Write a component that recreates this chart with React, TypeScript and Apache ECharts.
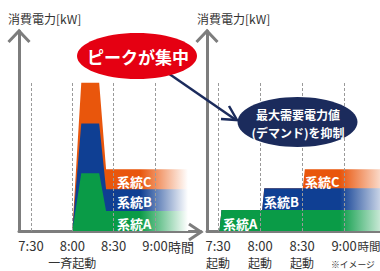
import React, { useEffect, useRef } from "react";
import * as echarts from "echarts";

// ---- data ----
const tickValues = [450, 480, 510, 540]; // minutes since 0:00
const tickLabels = ["7:30", "8:00", "8:30", "9:00"];
const leftSubLabels = ["", "一斉起動", "", ""];
const rightSubLabels = ["起動", "起動", "起動", ""];
const systemNames = ["系統A", "系統B", "系統C"];

// left panel: all systems start at once
const leftTimes = [480, 486.5, 499.5, 504.5, 564];
const leftA = [0, 58, 58, 20, 20];
const leftB = [0, 50, 50, 22, 22];
const leftC = [0, 41, 41, 20, 20];

// right panel: staggered start
const rightStart = [451, 481.5, 510.5];
const rightRise = 1.5;
const rightLevel = [21, 22, 19];
const rightEnd = 566;

const gridlineTop = 149;

const FONT = '"Noto Sans CJK JP", "Noto Sans", sans-serif';
const GRAY = "#7d7d7d";
const COLORS = ["#0a9b47", "#0f3f93", "#e9560c"];

function leftTotal(level: number) {
  const parts = [leftA, leftB, leftC].slice(0, level + 1);
  return leftTimes.map((t, i) => [t, parts.reduce((s, p) => s + p[i], 0)]);
}

function rightTotal(level: number) {
  const pts: number[][] = [];
  let cum = 0;
  for (let j = 0; j <= level; j++) {
    pts.push([rightStart[j], cum]);
    cum += rightLevel[j];
    pts.push([rightStart[j] + rightRise, cum]);
  }
  pts.push([rightEnd, cum]);
  return pts;
}

function xAxisDef(gridIndex: number, min: number, max: number, subs: string[]) {
  return {
    type: "value",
    gridIndex,
    min,
    max,
    axisLine: { show: true, onZero: false, lineStyle: { color: GRAY, width: 3 } },
    axisTick: { show: false },
    splitLine: { show: false },
    axisLabel: {
      customValues: tickValues,
      margin: 5,
      color: "#333",
      fontSize: 13,
      lineHeight: 18,
      fontFamily: FONT,
      formatter: (v: number) => {
        const i = tickValues.indexOf(v);
        if (i < 0) return "";
        return subs[i] ? `{a|${tickLabels[i]}}\n{b|${subs[i]}}` : `{a|${tickLabels[i]}}`;
      },
      rich: {
        a: { fontSize: 13, lineHeight: 18, color: "#333", fontFamily: FONT },
        b: { fontSize: 12, lineHeight: 17, color: "#333", fontFamily: FONT },
      },
    },
  };
}

function yAxisDef(gridIndex: number) {
  return {
    type: "value",
    gridIndex,
    min: 0,
    max: 201,
    axisLine: { show: true, onZero: false, lineStyle: { color: GRAY, width: 3 } },
    axisTick: { show: false },
    axisLabel: { show: false },
    splitLine: { show: false },
  };
}

function areaSeries(name: string, idx: number, data: number[][], color: string, f0: number, f1: number, withLines: boolean) {
  const s: any = {
    type: "line",
    name,
    xAxisIndex: idx,
    yAxisIndex: idx,
    data,
    showSymbol: false,
    symbol: "none",
    silent: true,
    lineStyle: { width: 0, opacity: 0 },
    areaStyle: {
      opacity: 1,
      color: new echarts.graphic.LinearGradient(
        f0, 0, f1, 0,
        [
          { offset: 0, color },
          { offset: 1, color: "#ffffff" },
        ],
        true
      ),
    },
  };
  if (withLines) {
    s.markLine = {
      silent: true,
      symbol: ["none", "none"],
      label: { show: false },
      lineStyle: { color: "#9a9a9a", type: [3, 2], width: 1 },
      data: tickValues.map((v) => [{ coord: [v, 0] }, { coord: [v, gridlineTop] }]),
    };
  }
  return s;
}

function txt(text: string, x: number, y: number, opts: any = {}) {
  return {
    type: "text",
    z: 20,
    x,
    y,
    style: {
      text,
      fill: opts.fill || "#333",
      font: `${opts.weight || "normal"} ${opts.size || 12}px ${FONT}`,
      textAlign: opts.align || "left",
      textVerticalAlign: "middle",
    },
  };
}

export default function App() {
  const ref = useRef<HTMLDivElement>(null);
  useEffect(() => {
    if (!ref.current) return;
    const chart = echarts.init(ref.current, undefined, { renderer: "svg" });

    const series: any[] = [];
    // left panel (z-order: total C, total B, A)
    series.push(areaSeries(systemNames[2], 0, leftTotal(2), COLORS[2], 140, 188, false));
    series.push(areaSeries(systemNames[1], 0, leftTotal(1), COLORS[1], 140, 188, false));
    series.push(areaSeries(systemNames[0], 0, leftTotal(0), COLORS[0], 140, 188, true));
    // right panel
    series.push(areaSeries(systemNames[2], 1, rightTotal(2), COLORS[2], 340, 392, false));
    series.push(areaSeries(systemNames[1], 1, rightTotal(1), COLORS[1], 340, 392, false));
    series.push(areaSeries(systemNames[0], 1, rightTotal(0), COLORS[0], 340, 392, true));

    const chev = (points: number[][]) => ({
      type: "polyline",
      z: 20,
      shape: { points },
      style: { stroke: GRAY, lineWidth: 3, fill: "none" },
    });
    const white = { fill: "#fff", weight: "bold", size: 13 };
    const NAVY = "#1b2b5c";

    chart.setOption({
      animation: false,
      grid: [
        { left: 19, top: 31, width: 182, height: 201 },
        { left: 207, top: 31, width: 173, height: 201 },
      ],
      xAxis: [
        xAxisDef(0, 441.3, 573.4, leftSubLabels),
        xAxisDef(1, 442.1, 565.7, rightSubLabels),
      ],
      yAxis: [yAxisDef(0), yAxisDef(1)],
      series,
      graphic: [
        chev([[8.5, 42], [19, 31], [29.5, 42]]),
        chev([[196.5, 42], [207, 31], [217.5, 42]]),
        chev([[189, 224], [201, 232], [189, 240]]),
        txt("消費電力[kW]", 8, 18, { size: 12 }),
        txt("消費電力[kW]", 197, 18, { size: 12 }),
        txt("時間", 168, 246, { size: 13 }),
        txt("時間", 357.5, 246, { size: 11.5 }),
        txt("※イメージ", 331, 264.5, { size: 8.8 }),
        // series labels left
        txt(systemNames[2], 117, 181.5, white),
        txt(systemNames[1], 117, 201, white),
        txt(systemNames[0], 117, 223, white),
        // series labels right
        txt(systemNames[0], 223, 223.5, white),
        txt(systemNames[1], 264, 201.5, white),
        txt(systemNames[2], 305, 181.5, white),
        // arrow
        {
          type: "line",
          z: 20,
          shape: { x1: 165, y1: 71, x2: 236, y2: 120 },
          style: { stroke: NAVY, lineWidth: 2.5 },
        },
        {
          type: "polyline",
          z: 20,
          shape: { points: [[229, 106], [237, 120], [221, 119]] },
          style: { stroke: NAVY, lineWidth: 2.5, fill: "none" },
        },
        {
          type: "ellipse",
          z: 21,
          shape: { cx: 137, cy: 56, rx: 60, ry: 23 },
          style: { fill: "#e50012" },
        },
        { ...txt("ピークが集中", 138, 56, { fill: "#fff", weight: "bold", size: 17, align: "center" }), z: 22 },
        {
          type: "ellipse",
          z: 21,
          shape: { cx: 297.5, cy: 122, rx: 60, ry: 25 },
          style: { fill: NAVY },
        },
        { ...txt("最大需要電力値", 298, 114.5, { fill: "#fff", weight: "bold", size: 12, align: "center" }), z: 22 },
        { ...txt("(デマンド)を抑制", 298, 132, { fill: "#fff", weight: "bold", size: 12, align: "center" }), z: 22 },
      ],
    });
    return () => chart.dispose();
  }, []);
  return (
    <div
      ref={ref}
      style={{ position: "fixed", left: 0, top: 0, width: 380, height: 271, background: "#fff" }}
    />
  );
}
